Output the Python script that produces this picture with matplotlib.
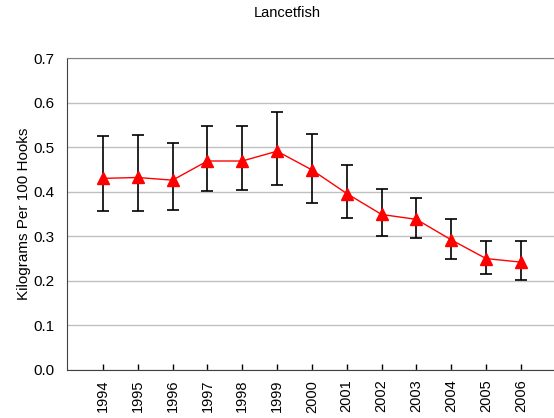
import matplotlib.pyplot as plt
import numpy as np

years = ["1994", "1995", "1996", "1997", "1998", "1999", "2000",
         "2001", "2002", "2003", "2004", "2005", "2006"]
cpue = [0.430, 0.432, 0.426, 0.469, 0.469, 0.491, 0.449,
        0.396, 0.349, 0.338, 0.292, 0.250, 0.242]
upper = [0.525, 0.527, 0.509, 0.547, 0.547, 0.580, 0.530,
         0.461, 0.406, 0.385, 0.338, 0.290, 0.290]
lower = [0.357, 0.357, 0.360, 0.402, 0.404, 0.415, 0.375,
         0.340, 0.301, 0.296, 0.250, 0.215, 0.201]

plt.rcParams["font.family"] = ["Liberation Sans", "DejaVu Sans"]

fig = plt.figure(figsize=(5.54, 4.18), dpi=100)
ax = fig.add_axes([0.121, 0.115, 0.879, 0.746])

x = np.arange(len(years))
y = np.array(cpue)
yerr = [y - np.array(lower), np.array(upper) - y]

ax.errorbar(x, y, yerr=yerr, fmt="none", ecolor="black", elinewidth=1.2,
            capsize=4, capthick=1.2, zorder=2)
ax.plot(x, y, color="red", lw=1, marker="^", markersize=8.5,
        markerfacecolor="red", markeredgecolor="red", zorder=3)

ax.set_xlim(-1.03, 12.95)
ax.set_ylim(0, 0.7)
yt = np.arange(0, 0.71, 0.1)
ax.set_yticks(yt)
ax.set_yticklabels([f"{v:.1f}" for v in yt], fontsize=11)
ax.set_xticks(x)
ax.set_xticklabels(years, rotation=90, fontsize=10.5)
ax.tick_params(axis="x", direction="in", length=4, width=1, color="black", pad=7)
ax.tick_params(axis="y", length=0, pad=9)

ax.grid(axis="y", color="#c0c0c0", lw=1)
ax.set_axisbelow(True)
ax.spines["right"].set_visible(False)
ax.spines["top"].set_color("#808080")
ax.spines["left"].set_color("#404040")
ax.spines["bottom"].set_color("#404040")

ax.set_ylabel("Kilograms Per 100 Hooks", fontsize=11, labelpad=2)
fig.text(0.518, 1 - 13 / 418, "Lancetfish", ha="center", va="center", fontsize=10.5)

fig.savefig("out.png", dpi=100)
